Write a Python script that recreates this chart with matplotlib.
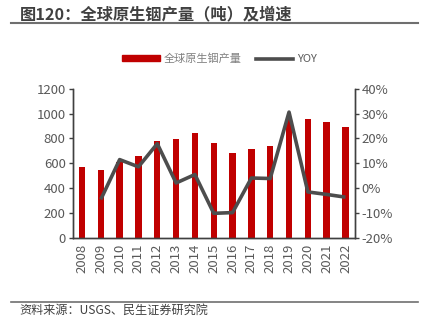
import matplotlib.pyplot as plt
from matplotlib.lines import Line2D
from matplotlib.ticker import FuncFormatter

plt.rcParams['font.family'] = ['Noto Sans CJK SC', 'DejaVu Sans']

years = ['2008', '2009', '2010', '2011', '2012', '2013', '2014', '2015',
         '2016', '2017', '2018', '2019', '2020', '2021', '2022']
output = [570, 545, 608, 660, 780, 798, 845, 760,
          685, 715, 740, 965, 955, 930, 895]
yoy = [None, -4.5, 11.5, 8.6, 17.9, 2.1, 5.5, -10.1,
       -9.8, 4.1, 3.9, 30.6, -1.5, -2.5, -3.6]

red = '#C00000'
dark = '#404040'
grey = '#595959'

fig = plt.figure(figsize=(4.22, 3.22), dpi=100)
ax = fig.add_axes([0.172, 0.261, 0.669, 0.4635])
ax2 = ax.twinx()

x = list(range(len(years)))
ax.bar(x, output, width=0.34, color=red, zorder=2)
ax.set_ylim(0, 1200)
ax.set_yticks(range(0, 1201, 200))
ax.set_xlim(-0.5, len(years) - 0.5)
ax.set_xticks(x)
ax.set_xticklabels(years, rotation=90)

xs = [i for i, v in zip(x, yoy) if v is not None]
vs = [v for v in yoy if v is not None]
ax2.plot(xs, vs, color='#4D4D4D', lw=2.6, solid_capstyle='butt', zorder=3)
ax2.set_ylim(-20, 40)
ax2.set_yticks(range(-20, 41, 10))
ax2.yaxis.set_major_formatter(FuncFormatter(lambda v, p: f'{v:.0f}%'))

for a in (ax, ax2):
    a.spines['top'].set_visible(False)
    for s in ('left', 'right', 'bottom'):
        a.spines[s].set_color(dark)
        a.spines[s].set_linewidth(1.0)
    a.tick_params(axis='y', colors=grey, labelsize=9.5, length=3, width=1, direction='out', pad=2)
    a.tick_params(axis='x', colors=grey, labelsize=9.5, length=0, pad=4)
    for lab in a.get_yticklabels() + a.get_xticklabels():
        lab.set_color(grey)
ax.tick_params(axis='y', color=dark)
ax2.tick_params(axis='y', color=dark)
ax.set_zorder(ax2.get_zorder() - 1)
ax.patch.set_visible(False)

handles = [plt.Rectangle((0, 0), 1, 1, color=red),
           Line2D([0], [0], color='#4D4D4D', lw=2.6)]
leg = fig.legend(handles, ['全球原生铟产量', 'YOY'], loc='center',
                 bbox_to_anchor=(0.52, 0.817), ncol=2, frameon=False,
                 fontsize=8, handlelength=3.4, handleheight=0.5,
                 columnspacing=1.3, handletextpad=0.3)
leg.get_texts()[0].set_color('#808080')
leg.get_texts()[1].set_color(grey)

fig.text(0.047, 0.955, '图120：全球原生铟产量（吨）及增速', fontsize=11.7,
         fontweight='bold', color=dark, va='center', ha='left')
fig.add_artist(Line2D([0.026, 0.99], [0.928, 0.928], color='#6F6F6F', lw=1.5))
fig.add_artist(Line2D([0.026, 0.99], [0.063, 0.063], color='#6F6F6F', lw=1.2))
fig.text(0.047, 0.035, '资料来源：USGS、民生证券研究院', fontsize=8.7,
         color=dark, va='center', ha='left')

fig.savefig('out.png', dpi=100)
